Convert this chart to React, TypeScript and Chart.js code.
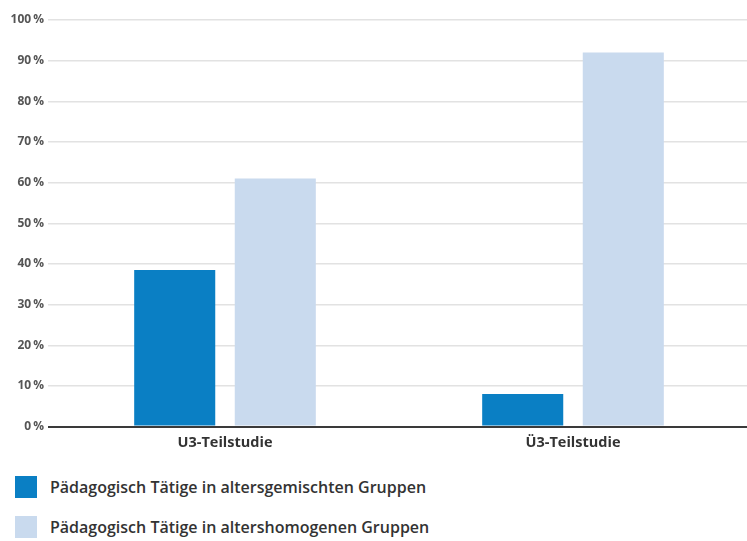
import React, { useEffect, useRef } from "react";
import { Chart, registerables } from "chart.js";

Chart.register(...registerables);

const categories = ["U3-Teilstudie", "Ü3-Teilstudie"];
const seriesNames = [
  "Pädagogisch Tätige in altersgemischten Gruppen",
  "Pädagogisch Tätige in altershomogenen Gruppen",
];
const mixedValues = [38.5, 8];
const homogeneousValues = [61, 92];
const seriesColors = ["#0a7fc4", "#c9daee"];
const yTickStep = 10;
const yMax = 100;

const FONT = "'Open Sans', 'Noto Sans', sans-serif";

export default function App() {
  const ref = useRef<HTMLCanvasElement | null>(null);

  useEffect(() => {
    if (!ref.current) return;
    const chart = new Chart(ref.current, {
      type: "bar",
      data: {
        labels: categories,
        datasets: [
          { label: seriesNames[0], data: mixedValues, backgroundColor: seriesColors[0], borderWidth: 0 },
          { label: seriesNames[1], data: homogeneousValues, backgroundColor: seriesColors[1], borderWidth: 0 },
        ],
      },
      options: {
        responsive: false,
        animation: false,
        devicePixelRatio: 1,
        layout: { padding: { top: 20, left: 0, right: 0, bottom: 6 } },
        datasets: { bar: { categoryPercentage: 0.578, barPercentage: 0.806 } } as any,
        plugins: {
          legend: { display: false },
          tooltip: { enabled: false },
        },
        scales: {
          x: {
            grid: { display: false, drawTicks: false },
            border: { display: false },
            ticks: {
              padding: 8,
              color: "#333",
              font: { family: FONT, size: 14.5, weight: "bold" },
            },
          },
          y: {
            min: 0,
            max: yMax,
            afterFit: (scale: any) => {
              scale.width = 51;
            },
            grid: {
              color: (c: any) => (c.tick && c.tick.value === 0 ? "#3a3a3a" : "#e2e2e2"),
              lineWidth: (c: any) => (c.tick && c.tick.value === 0 ? 2 : 1.5),
              tickLength: 3,
            },
            border: { display: false },
            ticks: {
              stepSize: yTickStep,
              padding: 4,
              color: "#555",
              font: { family: FONT, size: 12, weight: "bold" },
              callback: (v: any) => `${v}\u2009%`,
            },
          },
        },
      },
    });
    return () => chart.destroy();
  }, []);

  return (
    <div style={{ position: "absolute", left: 0, top: 0, width: 747, height: 541, background: "#fff", overflow: "hidden" }}>
      <canvas ref={ref} width={747} height={466} style={{ display: "block" }} />
      {seriesNames.map((name, i) => (
        <div
          key={name}
          style={{
            position: "absolute",
            left: 15,
            top: 476 + i * 40,
            height: 22,
            display: "flex",
            alignItems: "center",
            fontFamily: FONT,
            fontWeight: 600,
            fontSize: 16,
            color: "#333",
            whiteSpace: "nowrap",
          }}
        >
          <span style={{ display: "inline-block", width: 22, height: 22, background: seriesColors[i], marginRight: 13, flexShrink: 0 }} />
          {name}
        </div>
      ))}
    </div>
  );
}
